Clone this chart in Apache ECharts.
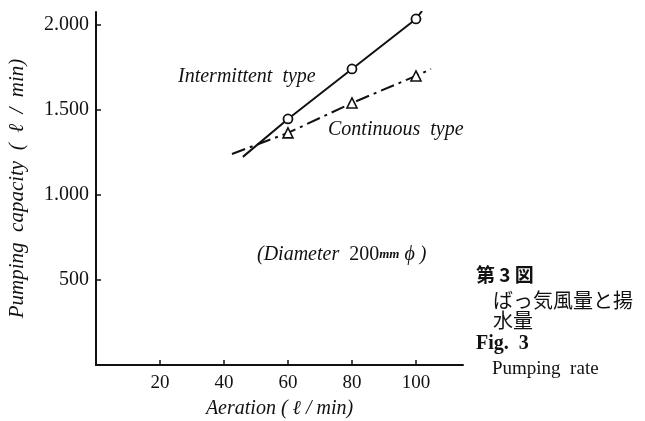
<!DOCTYPE html>
<html>
<head>
<meta charset="utf-8">
<script src="https://cdn.jsdelivr.net/npm/echarts@6/dist/echarts.min.js"></script>
<style>html,body{margin:0;padding:0;background:#fff}#c{width:645px;height:421px}</style>
</head>
<body>
<div id="c"></div>
<script>
// Data (x: aeration l/min, y: pumping capacity l/min)
const xTicks = [20, 40, 60, 80, 100];
const yTicks = [500, 1000, 1500, 2000];
const intermittentX = [45.9, 60, 80, 100, 101.9];
const intermittentY = [1224, 1447, 1741, 2035, 2082];
const intermittentMeasured = [false, true, true, true, false];
const continuousX = [42.5, 60, 80, 100, 104.7];
const continuousY = [1241, 1365, 1541, 1700, 1741];
const continuousMeasured = [false, true, true, true, false];

const serif = '"Liberation Serif", "DejaVu Serif", serif';
const cjk = '"Noto Sans CJK JP", sans-serif';

function build(xs, ys, measured, sym) {
  return xs.map((x, i) => ({
    value: [x, ys[i]],
    symbol: measured[i] ? sym : 'none'
  }));
}
function fmtY(v) {
  if (v === 0) return '';
  const s = String(v);
  return v >= 1000 ? s.slice(0, s.length - 3) + '.' + s.slice(-3) : s;
}

const chart = echarts.init(document.getElementById('c'), null, {renderer: 'canvas'});
chart.setOption({
  animation: false,
  backgroundColor: '#fff',
  grid: {left: 96, top: 12, width: 367, height: 353, containLabel: false, outerBoundsMode: 'none'},
  xAxis: {
    type: 'value', min: 0, max: 114.7, interval: 20,
    name: 'Aeration ( ℓ / min)', nameLocation: 'middle', nameGap: 34,
    nameTextStyle: {fontFamily: serif, fontStyle: 'italic', fontSize: 20, color: '#111'},
    axisLine: {show: true, onZero: false, lineStyle: {color: '#111', width: 2}},
    axisTick: {show: true, inside: true, length: 5, lineStyle: {color: '#111', width: 1.5}},
    axisLabel: {showMinLabel: false, showMaxLabel: false, margin: 9, fontFamily: serif, fontSize: 19, color: '#111',
      formatter: v => xTicks.includes(v) ? String(v) : ''},
    splitLine: {show: false}
  },
  yAxis: {
    type: 'value', min: 0, max: 2076, interval: 500,
    name: 'Pumping  capacity  (  ℓ  /  min)', nameLocation: 'middle', nameGap: 68,
    nameTextStyle: {fontFamily: serif, fontStyle: 'italic', fontSize: 21, color: '#111'},
    axisLine: {show: true, onZero: false, lineStyle: {color: '#111', width: 2}},
    axisTick: {show: true, inside: true, length: 5, lineStyle: {color: '#111', width: 1.5}},
    axisLabel: {showMinLabel: false, showMaxLabel: false, margin: 7, fontFamily: serif, fontSize: 20, color: '#111',
      formatter: v => yTicks.includes(v) ? fmtY(v) : ''},
    splitLine: {show: false}
  },
  series: [
    {
      name: 'Intermittent type', type: 'line',
      data: build(intermittentX, intermittentY, intermittentMeasured, 'circle'),
      symbolSize: 9, showAllSymbol: true,
      lineStyle: {color: '#111', width: 2, type: 'solid'},
      itemStyle: {color: '#fff', borderColor: '#111', borderWidth: 1.8}
    },
    {
      name: 'Continuous type', type: 'line',
      data: build(continuousX, continuousY, continuousMeasured, 'triangle'),
      symbolSize: 10, showAllSymbol: true,
      lineStyle: {color: '#111', width: 2, type: [14, 5, 3, 5]},
      itemStyle: {color: '#fff', borderColor: '#111', borderWidth: 1.6}
    }
  ],
  graphic: [
    {type: 'text', left: 178, top: 67, style: {text: 'Intermittent  type', font: 'italic 20px ' + serif, fill: '#111'}},
    {type: 'text', left: 328, top: 120, style: {text: 'Continuous  type', font: 'italic 20px ' + serif, fill: '#111'}},
    {type: 'text', left: 257, top: 245, style: {
      text: '{i|(Diameter  }{n|200}{s|mm}{i| ϕ )}',
      rich: {
        i: {fontFamily: serif, fontStyle: 'italic', fontSize: 20, fill: '#111'},
        n: {fontFamily: serif, fontSize: 20, fill: '#111'},
        s: {fontFamily: serif, fontStyle: 'italic', fontWeight: 'bold', fontSize: 13, fill: '#111'}
      }
    }},
    {type: 'text', left: 476, top: 265, style: {text: '第 3 図', font: 'bold 19px ' + cjk, fill: '#111'}},
    {type: 'text', left: 493, top: 290, style: {text: 'ばっ気風量と揚', font: '20px ' + cjk, fill: '#111'}},
    {type: 'text', left: 493, top: 310, style: {text: '水量', font: '20px ' + cjk, fill: '#111'}},
    {type: 'text', left: 476, top: 334, style: {text: 'Fig.  3', font: 'bold 20px ' + serif, fill: '#111'}},
    {type: 'text', left: 492, top: 360, style: {text: 'Pumping  rate', font: '19px ' + serif, fill: '#111'}}
  ]
});
</script>
</body>
</html>
